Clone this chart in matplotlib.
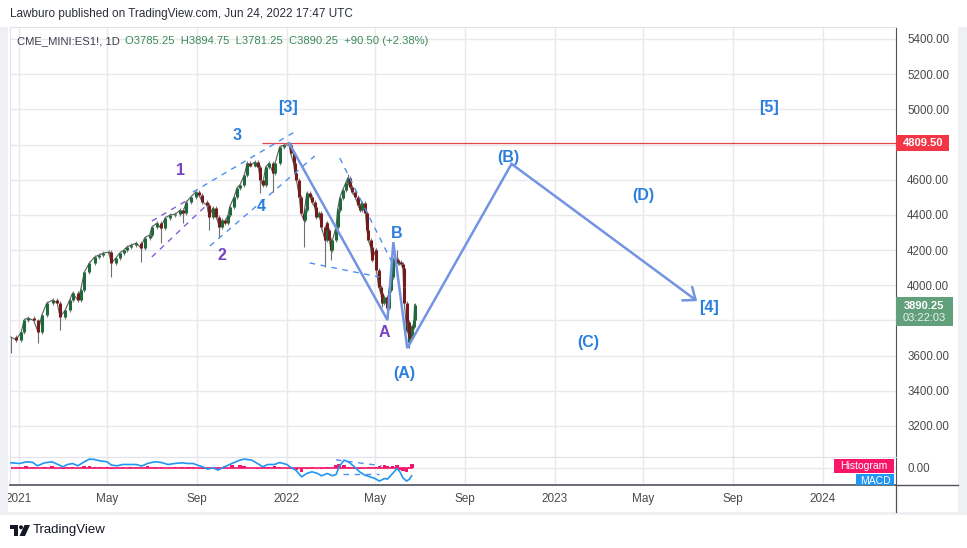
import matplotlib
matplotlib.use('Agg')
import matplotlib.pyplot as plt
import matplotlib.dates as mdates
import matplotlib.transforms as mtransforms
from matplotlib import ticker
from matplotlib.patches import Rectangle, Polygon, Circle
import numpy as np
import pandas as pd

plt.rcParams['font.family'] = ['Liberation Sans', 'DejaVu Sans']

W, H = 967, 548

# ES1! daily closes, sampled off the chart
price_dates = [
    '2020-12-21', '2020-12-28', '2021-01-04', '2021-01-08', '2021-01-13', '2021-01-21', '2021-01-27',
    '2021-02-01', '2021-02-08', '2021-02-16', '2021-02-22', '2021-02-26', '2021-03-05', '2021-03-11',
    '2021-03-15', '2021-03-22', '2021-03-26', '2021-03-31', '2021-04-07', '2021-04-14', '2021-04-20',
    '2021-04-26', '2021-05-03', '2021-05-07', '2021-05-13', '2021-05-18', '2021-05-24', '2021-05-28',
    '2021-06-03', '2021-06-10', '2021-06-16', '2021-06-21', '2021-06-28', '2021-07-01', '2021-07-08',
    '2021-07-13', '2021-07-19', '2021-07-26', '2021-08-02', '2021-08-09', '2021-08-12', '2021-08-17',
    '2021-08-23', '2021-08-30', '2021-09-03', '2021-09-08', '2021-09-14', '2021-09-17', '2021-09-22',
    '2021-09-27', '2021-10-01', '2021-10-05', '2021-10-08', '2021-10-13', '2021-10-15', '2021-10-21',
    '2021-10-25', '2021-10-29', '2021-11-04', '2021-11-08', '2021-11-12', '2021-11-18', '2021-11-23',
    '2021-11-26', '2021-11-29', '2021-12-03', '2021-12-08', '2021-12-13', '2021-12-16', '2021-12-22',
    '2021-12-28', '2022-01-04', '2022-01-06', '2022-01-10', '2022-01-12', '2022-01-14', '2022-01-18',
    '2022-01-20', '2022-01-24', '2022-01-25', '2022-01-28', '2022-02-02', '2022-02-04', '2022-02-08',
    '2022-02-10', '2022-02-14', '2022-02-17', '2022-02-22', '2022-02-24', '2022-02-25', '2022-02-28',
    '2022-03-02', '2022-03-04', '2022-03-09', '2022-03-11', '2022-03-14', '2022-03-18', '2022-03-22',
    '2022-03-25', '2022-03-28', '2022-03-31', '2022-04-04', '2022-04-08', '2022-04-11', '2022-04-13',
    '2022-04-18', '2022-04-20', '2022-04-22', '2022-04-25', '2022-04-27', '2022-05-02', '2022-05-03',
    '2022-05-06', '2022-05-09', '2022-05-11', '2022-05-13', '2022-05-17', '2022-05-18', '2022-05-20',
    '2022-05-23', '2022-05-25', '2022-05-31', '2022-06-01', '2022-06-03', '2022-06-06', '2022-06-08',
    '2022-06-09', '2022-06-10', '2022-06-13', '2022-06-14', '2022-06-15', '2022-06-16', '2022-06-17',
    '2022-06-21', '2022-06-22', '2022-06-23', '2022-06-24',
]
price_close = [
    3706, 3690, 3734, 3802, 3814, 3800, 3734,
    3830, 3899, 3916, 3899, 3820, 3859, 3916,
    3956, 3916, 3973, 4075, 4127, 4161, 4172,
    4183, 4189, 4127, 4155, 4183, 4200, 4218,
    4229, 4240, 4212, 4269, 4286, 4331, 4354,
    4325, 4382, 4400, 4405, 4428, 4411, 4473,
    4502, 4530, 4513, 4473, 4456, 4388, 4439,
    4388, 4331, 4371, 4354, 4400, 4445, 4502,
    4553, 4570, 4627, 4695, 4680, 4700, 4672,
    4598, 4570, 4672, 4695, 4638, 4695, 4786,
    4797, 4797, 4752, 4695, 4638, 4598, 4502,
    4411, 4371, 4428, 4524, 4502, 4473, 4445,
    4388, 4411, 4331, 4257, 4354, 4314, 4257,
    4200, 4257, 4331, 4428, 4496, 4542, 4581,
    4610, 4559, 4530, 4502, 4456, 4428, 4468,
    4411, 4314, 4257, 4218, 4143, 4200, 4087,
    3990, 3956, 3899, 3933, 3916, 3870, 3973,
    4047, 4150, 4143, 4127, 4132, 4120, 4100,
    3990, 3900, 3750, 3740, 3790, 3680, 3700,
    3770, 3760, 3800, 3890.25,
]

# wick ends sticking out of the bodies
wick_dates = ['2020-12-21', '2021-01-27', '2021-02-26', '2021-05-07', '2021-06-16', '2021-07-13',
              '2021-08-12', '2021-09-17', '2021-10-01', '2021-11-26', '2021-12-13', '2022-01-04',
              '2022-01-24', '2022-02-22', '2022-03-02', '2022-03-25', '2022-05-11', '2022-05-18',
              '2022-05-31', '2022-06-16', '2022-06-24']
wick_ends = [3615, 3672, 3745, 4047, 4132, 4240,
             4354, 4314, 4274, 4524, 4530, 4808,
             4218, 4104, 4143, 4630, 3876, 3820,
             4200, 3643, 3895]

ath = 4809.50
last_close = 3890.25

# Elliott wave path and projection
wave_dates = ['2022-01-04', '2022-05-18', '2022-05-26', '2022-06-14', '2022-11-03', '2023-07-14']
wave_prices = [4808, 3802, 4245, 3643, 4690, 3910]

blue = '#2a7fde'
purple = '#7444c2'
label_text = ['[3]', '3', '1', '2', '4', 'A', 'B', '(A)', '(B)', '(C)', '(D)', '[4]', '[5]']
label_dates = ['2022-01-02', '2021-10-25', '2021-08-09', '2021-10-05', '2021-11-27', '2022-05-14',
               '2022-05-31', '2022-06-10', '2022-10-29', '2023-02-15', '2023-05-01', '2023-07-30',
               '2023-10-20']
label_prices = [5013, 4849, 4655, 4172, 4445, 3729, 4297, 3501, 4729, 3672, 4513, 3871, 5013]
label_colors = [blue, blue, purple, purple, blue, purple, blue, blue, blue, blue, blue, blue, blue]

# trendlines (dashed)
trend_start = ['2021-08-26', '2021-09-18', '2021-07-01', '2021-07-01', '2022-03-14', '2022-02-01']
trend_p0 = [4530, 4223, 4365, 4161, 4723, 4127]
trend_end = ['2022-01-16', '2022-02-08', '2021-08-21', '2021-09-11', '2022-05-24', '2022-05-07']
trend_p1 = [4883, 4735, 4490, 4445, 4132, 4047]
trend_colors = ['#4d8ff0', '#4d8ff0', '#8a5ad6', '#8a5ad6', '#4d8ff0', '#4d8ff0']

# MACD pane
macd_dates = [
    '2020-12-21', '2021-01-02', '2021-01-11', '2021-01-20', '2021-01-26', '2021-02-05', '2021-02-15',
    '2021-02-23', '2021-03-02', '2021-03-08', '2021-03-15', '2021-03-22', '2021-03-31', '2021-04-07',
    '2021-04-14', '2021-04-21', '2021-05-01', '2021-05-07', '2021-05-15', '2021-05-22', '2021-06-01',
    '2021-06-10', '2021-06-17', '2021-06-25', '2021-07-05', '2021-07-14', '2021-07-23', '2021-08-01',
    '2021-08-11', '2021-08-19', '2021-08-26', '2021-09-01', '2021-09-08', '2021-09-15', '2021-09-22',
    '2021-09-29', '2021-10-08', '2021-10-18', '2021-10-29', '2021-11-04', '2021-11-14', '2021-11-22',
    '2021-11-29', '2021-12-06', '2021-12-15', '2021-12-22', '2022-01-01', '2022-01-07', '2022-01-13',
    '2022-01-21', '2022-01-28', '2022-02-04', '2022-02-12', '2022-02-17', '2022-02-25', '2022-03-04',
    '2022-03-09', '2022-03-13', '2022-03-20', '2022-03-27', '2022-04-03', '2022-04-10', '2022-04-17',
    '2022-04-24', '2022-05-01', '2022-05-07', '2022-05-14', '2022-05-18', '2022-05-25', '2022-05-31',
    '2022-06-04', '2022-06-08', '2022-06-13', '2022-06-17', '2022-06-20',
]
macd_vals = [
    47, 40, 57, 50, 17, 47, 57, 30, 7, 30, 40, 17, 57, 84, 80, 67, 57, 24, 17, 30,
    30, 30, 14, 40, 57, 50, 30, 40, 47, 40, 40, 24, 7, -16, -3, -26, 7, 40, 74, 84,
    74, 40, 7, 30, 30, 50, 30, -3, -26, -93, -60, -43, -60, -83, -60, -83, -70, 7, 74, 50,
    7, -43, -76, -93, -110, -136, -110, -116, -60, -10, -43, -103, -136, -116, -83,
]
hist_vals = [
    10, 6, 14, 8, -6, 10, 12, -8, -12, 10, 8, -6, 14, 18, 10, 6, 8, -10, -6, 6,
    5, 4, -8, 12, 10, 5, -6, 8, 6, 4, 3, -8, -12, -14, -6, -10, 18, 28, 26, 12,
    -6, -10, 6, 4, 12, 8, -6, -14, -28, -40, -10, 6, -8, -14, 10, -6, 22, 35, 30, 8,
    -12, -10, -6, 6, 10, 18, 22, 15, 20, 28, -20, -35, -48, 10, 38,
]
macd_trend_start = ['2022-03-09', '2022-03-18']
macd_trend_v0 = [77, -68]
macd_trend_end = ['2022-05-10', '2022-05-07']
macd_trend_v1 = [17, -68]

y_ticks = [3200, 3400, 3600, 3800, 4000, 4200, 4400, 4600, 4800, 5000, 5200, 5400]
hidden_ticks = [3800, 4800]


def dn(dates):
    return mdates.date2num(pd.to_datetime(dates).to_pydatetime())


def box(l, t, r, b):
    return [l / W, 1 - b / H, (r - l) / W, (b - t) / H]


fig = plt.figure(figsize=(W / 100, H / 100), dpi=100)
fig.patch.set_facecolor('white')
ax = fig.add_axes(box(10, 27, 896, 457))
axm = fig.add_axes(box(10, 457, 896, 485), sharex=ax)

grid_c = '#e8e8ed'
axis_c = '#50535e'
txt_c = '#4a4a4a'

x0 = mdates.date2num(pd.Timestamp('2020-12-19 18:00'))
x1 = mdates.date2num(pd.Timestamp('2024-04-09 20:00'))
ax.set_xlim(x0, x1)
ax.set_ylim(3023.7, 5468.2)

# candles (open = previous close)
px = dn(price_dates)
pc = np.array(price_close, dtype=float)
opens, closes, xs = pc[:-1], pc[1:], px[1:]
lo = np.minimum(opens, closes)
hi = np.maximum(opens, closes)
up = closes >= opens
ax.plot(px, pc, color='#5a5a5a', linewidth=0.8, zorder=3)
ax.vlines(xs, lo - 10, hi + 10, colors='#7a7a7a', linewidth=0.8, zorder=3)
wx = dn(wick_dates)
for d, w in zip(wx, wick_ends):
    i = int(np.argmin(np.abs(px - d)))
    ax.vlines(d, min(pc[i], w), max(pc[i], w), colors='#6f6f6f', linewidth=0.8, zorder=3)
ax.vlines(xs, lo, hi, colors=np.where(up, '#1d6a3a', '#761b1b'), linewidth=2.2, zorder=4)

# all-time-high line
ax.hlines(ath, dn(['2021-11-28'])[0], x1, colors='#e0484b', linewidth=0.9, zorder=2)

# dashed trendlines
for s, p0, e, p1, c in zip(trend_start, trend_p0, trend_end, trend_p1, trend_colors):
    ax.plot(dn([s, e]), [p0, p1], color=c, linewidth=1.0, dashes=(4, 4), zorder=5)

# wave path and projected arrow
wx_ = dn(wave_dates)
wave_c = '#7393e3'
ax.plot(wx_[:-1], wave_prices[:-1], color=wave_c, linewidth=1.8, solid_joinstyle='miter', zorder=6)
ax.annotate('', xy=(wx_[-1], wave_prices[-1]), xytext=(wx_[-2], wave_prices[-2]),
            arrowprops=dict(arrowstyle='->,head_length=0.75,head_width=0.6', color=wave_c,
                            linewidth=1.8, shrinkA=0, shrinkB=0, mutation_scale=10), zorder=6)

for s, d, p, c in zip(label_text, dn(label_dates), label_prices, label_colors):
    ax.text(d, p, s, ha='center', va='center', fontsize=11.5, fontweight='bold', color=c, zorder=7)

# grid / axes styling
loc = mdates.MonthLocator(bymonth=[1, 5, 9])
ax.xaxis.set_major_locator(loc)


def fmt(x, pos):
    d = mdates.num2date(x)
    return str(d.year) if d.month == 1 else d.strftime('%b')


ax.xaxis.set_major_formatter(ticker.FuncFormatter(fmt))
ax.set_yticks(y_ticks)
ax.set_yticklabels(['' if t in hidden_ticks else '%.2f' % t for t in y_ticks])
ax.yaxis.tick_right()
ax.tick_params(axis='y', length=0, pad=8, labelsize=8.3, labelcolor=txt_c)
ax.tick_params(axis='x', length=0, labelbottom=False)
ax.grid(True, color=grid_c, linewidth=1, zorder=0)
ax.set_axisbelow(True)
for side in ['left', 'top', 'bottom']:
    ax.spines[side].set_color('#e0e3eb')
ax.spines['right'].set_color(axis_c)

# MACD pane
md = dn(macd_dates)
pink = '#f7156b'
axm.set_ylim(-175, 105)
axm.plot([md[0], md[-1]], [0, 0], color=pink, linewidth=1.2, zorder=2)
axm.bar(md, hist_vals, width=5, color=pink, linewidth=0, zorder=2)
axm.plot(md, macd_vals, color='#2196f3', linewidth=1.2, zorder=3)
for s, v0, e, v1 in zip(macd_trend_start, macd_trend_v0, macd_trend_end, macd_trend_v1):
    axm.plot(dn([s, e]), [v0, v1], color='#4d8ff0', linewidth=1.0, dashes=(4, 4), zorder=4)
axm.set_yticks([0])
axm.set_yticklabels(['0.00'])
axm.yaxis.tick_right()
axm.tick_params(axis='y', length=0, pad=8, labelsize=8.3, labelcolor=txt_c)
axm.tick_params(axis='x', length=0, pad=6, labelsize=8.5, labelcolor=txt_c)
axm.grid(True, color=grid_c, linewidth=1, zorder=0)
axm.set_axisbelow(True)
axm.spines['top'].set_color('#e0e3eb')
axm.spines['left'].set_color('#e0e3eb')
axm.spines['right'].set_color(axis_c)
axm.spines['bottom'].set_color(axis_c)
axm.spines['bottom'].set_linewidth(1.2)

# price tags on the scale
trans = mtransforms.blended_transform_factory(ax.transAxes, ax.transData)
pw = 1 / 886.0
ax.add_patch(Rectangle((1.0, ath - 46), 53 * pw, 92, transform=trans, facecolor='#f23645',
                       edgecolor='none', clip_on=False, zorder=8))
ax.text(1.0 + 27 * pw, ath, '%.2f' % ath, transform=trans, ha='center', va='center', fontsize=8,
        fontweight='bold', color='white', clip_on=False, zorder=9)
ax.add_patch(Rectangle((1.0, last_close - 123), 57 * pw, 165, transform=trans, facecolor='#62a07c',
                       edgecolor='none', clip_on=False, zorder=8))
ax.text(1.0 + 28 * pw, last_close - 6, '%.2f' % last_close, transform=trans, ha='center',
        va='center', fontsize=8, fontweight='bold', color='white', clip_on=False, zorder=9)
ax.text(1.0 + 28 * pw, last_close - 78, '03:22:03', transform=trans, ha='center', va='center',
        fontsize=8, color='#e8f3ec', clip_on=False, zorder=9)

# overlay in pixel units: header, frame strips, pane tags, logo
ov = fig.add_axes([0, 0, 1, 1], zorder=10)
ov.set_xlim(0, W)
ov.set_ylim(H, 0)
ov.axis('off')
ov.patch.set_alpha(0)
frame_c = '#eef0f4'
ov.add_patch(Rectangle((0, 27), 8, 488, facecolor=frame_c, edgecolor='none'))
ov.add_patch(Rectangle((958, 27), 9, 488, facecolor=frame_c, edgecolor='none'))
ov.add_patch(Rectangle((0, 512), W, 3, facecolor=frame_c, edgecolor='none'))
ov.plot([896, 896], [485, 512], color=axis_c, linewidth=0.9)
ov.plot([896, 958], [485, 485], color=axis_c, linewidth=1.0)

ov.text(10, 14, 'Lawburo published on TradingView.com, Jun 24, 2022 17:47 UTC', fontsize=8.5,
        color='#2a2e39', ha='left', va='center')
ov.text(17, 41, 'CME_MINI:ES1!, 1D', fontsize=8.1, color='#3b3f4a', ha='left', va='center')
ov.text(125, 41, 'O3785.25  H3894.75  L3781.25  C3890.25  +90.50 (+2.38%)', fontsize=8.1,
        color='#3c8a5c', ha='left', va='center')

ov.add_patch(Rectangle((834, 459), 60, 14, facecolor=pink, edgecolor='none'))
ov.text(864, 466, 'Histogram', fontsize=7.5, color='white', ha='center', va='center')
ov.add_patch(Rectangle((856, 474), 38, 11, facecolor='#2196f3', edgecolor='none'))
ov.text(875, 480.5, 'MACD', fontsize=7.5, color='white', ha='center', va='center')

logo_c = '#131722'
ov.add_patch(Rectangle((10, 525), 8, 4, facecolor=logo_c, edgecolor='none'))
ov.add_patch(Rectangle((14, 525), 4, 11, facecolor=logo_c, edgecolor='none'))
ov.add_patch(Circle((21, 527.3), 2, facecolor=logo_c, edgecolor='none'))
ov.add_patch(Polygon([(24.5, 525), (30, 525), (25, 536), (19.5, 536)], closed=True,
                     facecolor=logo_c, edgecolor='none'))
ov.text(33, 530, 'TradingView', fontsize=9.5, color=logo_c, ha='left', va='center')

fig.savefig('out.png', dpi=100, facecolor='white')
